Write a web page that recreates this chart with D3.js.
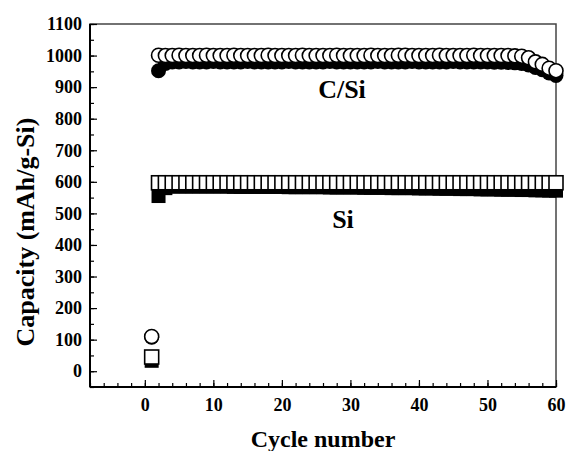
<!DOCTYPE html>
<html>
<head>
<meta charset="utf-8">
<script src="https://cdn.jsdelivr.net/npm/d3@7"></script>
<style>
body { margin: 0; background: #fff; }
svg text { font-family: "Liberation Serif", "Times New Roman", serif; font-weight: bold; }
.axis path { display: none; }
.axis line { stroke: #000; stroke-width: 1.2; }
</style>
</head>
<body>
<div id="chart"></div>
<script>
// cycle numbers 1..60
var cycles = [1,2,3,4,5,6,7,8,9,10,11,12,13,14,15,16,17,18,19,20,
    21,22,23,24,25,26,27,28,29,30,31,32,33,34,35,36,37,38,39,40,
    41,42,43,44,45,46,47,48,49,50,51,52,53,54,55,56,57,58,59,60];

// C/Si charge (open circles) and discharge (filled circles)
var csiOpen = [110,1001,1000,1000,1001,1000,1000,1000,1001,1000,1000,1000,1001,1000,1000,1000,1000,1001,1000,1000,
    1000,1000,1001,1000,1000,1000,1000,1001,1000,1000,1000,1000,1001,1000,1000,1000,1001,1001,1000,1000,
    1000,1000,1001,1000,1000,1000,1000,1001,1000,1000,1000,1000,1000,999,998,993,980,972,960,952];
var csiFill = [108,952,975,980,980,981,980,980,980,981,980,980,980,980,981,980,980,980,980,980,
    981,980,980,980,980,980,981,980,980,980,980,980,980,981,980,980,980,980,981,980,
    980,980,980,980,981,980,980,980,980,980,979,979,978,977,975,970,962,955,945,937];

// Si charge (open squares) and discharge (filled squares)
var siOpen = [45,597,597,597,597,597,597,597,597,597,597,597,597,597,597,597,597,597,597,597,
    597,597,597,597,597,597,597,597,597,597,597,597,597,597,597,597,597,597,597,597,
    597,597,597,597,597,597,597,597,597,597,597,597,597,597,597,597,597,597,597,597];
var siFill = [33,555,580,585,585,585,585,585,585,585,585,585,584,584,584,584,584,584,584,584,
    583,583,583,583,583,583,582,582,582,582,582,581,581,581,581,580,580,580,580,579,
    579,579,578,578,578,577,577,577,576,576,576,575,575,575,574,574,573,573,572,572];

var xMajor = [0,10,20,30,40,50,60];
var yMajor = [0,100,200,300,400,500,600,700,800,900,1000,1100];

var svg = d3.select("#chart").append("svg")
    .attr("width", 566)
    .attr("height", 451);

var pLeft = 90, pRight = 556, pTop = 24, pBottom = 387;

var x = d3.scaleLinear().domain([-8, 60]).range([pLeft, pRight]);
var y = d3.scaleLinear().domain([-50, 1100]).range([pBottom, pTop]);

// frame
svg.append("rect")
    .attr("x", pLeft).attr("y", pTop)
    .attr("width", pRight - pLeft).attr("height", pBottom - pTop)
    .attr("fill", "none")
    .attr("stroke", "#444")
    .attr("stroke-width", 1.5);
svg.append("line").attr("x1", pLeft).attr("x2", pLeft).attr("y1", pTop).attr("y2", pBottom)
    .attr("stroke", "#000").attr("stroke-width", 2);
svg.append("line").attr("x1", pLeft).attr("x2", pRight).attr("y1", pBottom).attr("y2", pBottom)
    .attr("stroke", "#000").attr("stroke-width", 2);

// minor ticks
svg.append("g")
    .attr("class", "axis")
    .attr("transform", "translate(0," + pBottom + ")")
    .call(d3.axisBottom(x).tickValues(d3.range(-8, 61, 2)).tickSize(-4).tickFormat(""));
svg.append("g")
    .attr("class", "axis")
    .attr("transform", "translate(" + pLeft + ",0)")
    .call(d3.axisLeft(y).tickValues(d3.range(-50, 1101, 50)).tickSize(-4).tickFormat(""));

// major ticks + labels
var xAxis = svg.append("g")
    .attr("class", "axis")
    .attr("transform", "translate(0," + pBottom + ")")
    .call(d3.axisBottom(x).tickValues(xMajor).tickSize(-7).tickFormat(d3.format("d")));
xAxis.selectAll("text").attr("font-size", 18).attr("fill", "#000").attr("y", 11);

var yAxis = svg.append("g")
    .attr("class", "axis")
    .attr("transform", "translate(" + pLeft + ",0)")
    .call(d3.axisLeft(y).tickValues(yMajor).tickSize(-7).tickFormat(d3.format("d")));
yAxis.selectAll("text").attr("font-size", 18).attr("fill", "#000").attr("x", -8);

// markers: discharge (filled) underneath, charge (open) on top
var sq = 14;

svg.append("g").selectAll("rect")
    .data(cycles)
    .enter().append("rect")
    .attr("x", function(d) { return x(d) - sq / 2; })
    .attr("y", function(d, i) { return y(siFill[i]) - sq / 2; })
    .attr("width", sq).attr("height", sq)
    .attr("fill", "#000");

svg.append("g").selectAll("rect")
    .data(cycles)
    .enter().append("rect")
    .attr("x", function(d) { return x(d) - sq / 2; })
    .attr("y", function(d, i) { return y(siOpen[i]) - sq / 2; })
    .attr("width", sq).attr("height", sq)
    .attr("fill", "#fff")
    .attr("stroke", "#000")
    .attr("stroke-width", 1.6);

svg.append("g").selectAll("circle")
    .data(cycles)
    .enter().append("circle")
    .attr("cx", function(d) { return x(d); })
    .attr("cy", function(d, i) { return y(csiFill[i]); })
    .attr("r", 7.5)
    .attr("fill", "#000");

svg.append("g").selectAll("circle")
    .data(cycles)
    .enter().append("circle")
    .attr("cx", function(d) { return x(d); })
    .attr("cy", function(d, i) { return y(csiOpen[i]); })
    .attr("r", 7)
    .attr("fill", "#fff")
    .attr("stroke", "#000")
    .attr("stroke-width", 1.6);

// series labels
svg.append("text")
    .attr("x", 342).attr("y", 98)
    .attr("text-anchor", "middle")
    .attr("font-size", 26)
    .text("C/Si");
svg.append("text")
    .attr("x", 343).attr("y", 228)
    .attr("text-anchor", "middle")
    .attr("font-size", 26)
    .text("Si");

// axis titles
svg.append("text")
    .attr("x", 323).attr("y", 447)
    .attr("text-anchor", "middle")
    .attr("font-size", 24)
    .text("Cycle number");
svg.append("text")
    .attr("transform", "translate(34,232) rotate(-90)")
    .attr("text-anchor", "middle")
    .attr("font-size", 26)
    .text("Capacity (mAh/g-Si)");
</script>
</body>
</html>
